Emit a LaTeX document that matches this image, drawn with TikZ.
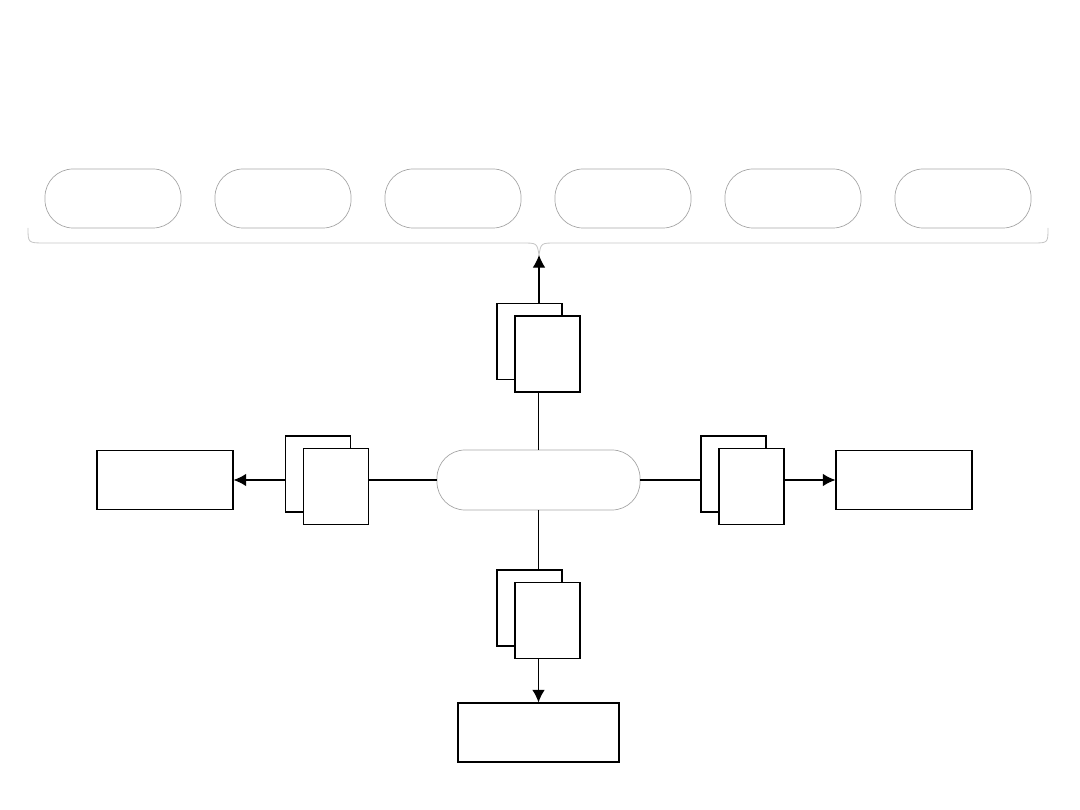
\documentclass[tikz,border=0pt]{standalone}
\usetikzlibrary{arrows.meta}

\tikzset{
  pill/.style={draw=gray!70, line width=0.5pt, rounded corners=20pt,
    minimum width=3.4cm, minimum height=1.475cm, inner sep=0pt},
  hubpill/.style={pill, minimum width=5.075cm, minimum height=1.5cm},
  doc/.style={draw, fill=white, line width=0.8pt, minimum width=1.625cm,
    minimum height=1.9cm, inner sep=0pt},
  outbox/.style={draw, line width=0.8pt, minimum width=3.4cm,
    minimum height=1.475cm, inner sep=0pt},
  link/.style={line width=0.8pt},
  arrow/.style={link, -{Latex[length=9pt,width=9pt]}},
  brace/.style={draw=gray!45, line width=0.6pt}
}

\begin{document}
\begin{tikzpicture}[x=0.025cm, y=0.025cm]
    \useasboundingbox (0,0) rectangle (1080,810);

    % row of pills
    \foreach \i/\x in {1/113, 2/283, 3/453, 4/623, 5/793, 6/963} {
      \node[pill] (p\i) at (\x,611.5) {};
    }

    % brace under the row
    \coordinate (tip) at (539,555);
    \draw[brace] (28,582) .. controls (28,567) .. (45,567) -- (522,567)
      .. controls (537,567) .. (tip) .. controls (541,567) .. (556,567)
      -- (1033,567) .. controls (1048,567) .. (1048,582);

    \node[hubpill] (hub) at (538.5,330) {};

    % stacks of two sheets
    \foreach \n/\x/\y in {T/529.5/468.5, L/318/336, R/733.5/336, B/529.5/202} {
      \node[doc] (back\n) at (\x,\y) {};
      \node[doc] (front\n) at (\x+18,\y-12.5) {};
    }

    \node[outbox] (outL) at (165,330) {};
    \node[outbox] (outR) at (904,330) {};
    \node[outbox, minimum width=4.025cm] (outB) at (538.5,77.5) {};

    % up
    \draw[link] (hub.north) -- (hub.north |- frontT.south);
    \draw[arrow] (tip |- backT.north) -- (tip);
    % down
    \draw[link] (hub.south) -- (hub.south |- backB.north);
    \draw[arrow] (outB.north |- frontB.south) -- (outB.north);
    % left
    \draw[link] (hub.west) -- (hub.west -| frontL.east);
    \draw[arrow] (hub.west -| backL.west) -- (outL.east);
    % right
    \draw[link] (hub.east) -- (hub.east -| backR.west);
    \draw[arrow] (hub.east -| frontR.east) -- (outR.west);
\end{tikzpicture}
\end{document}
